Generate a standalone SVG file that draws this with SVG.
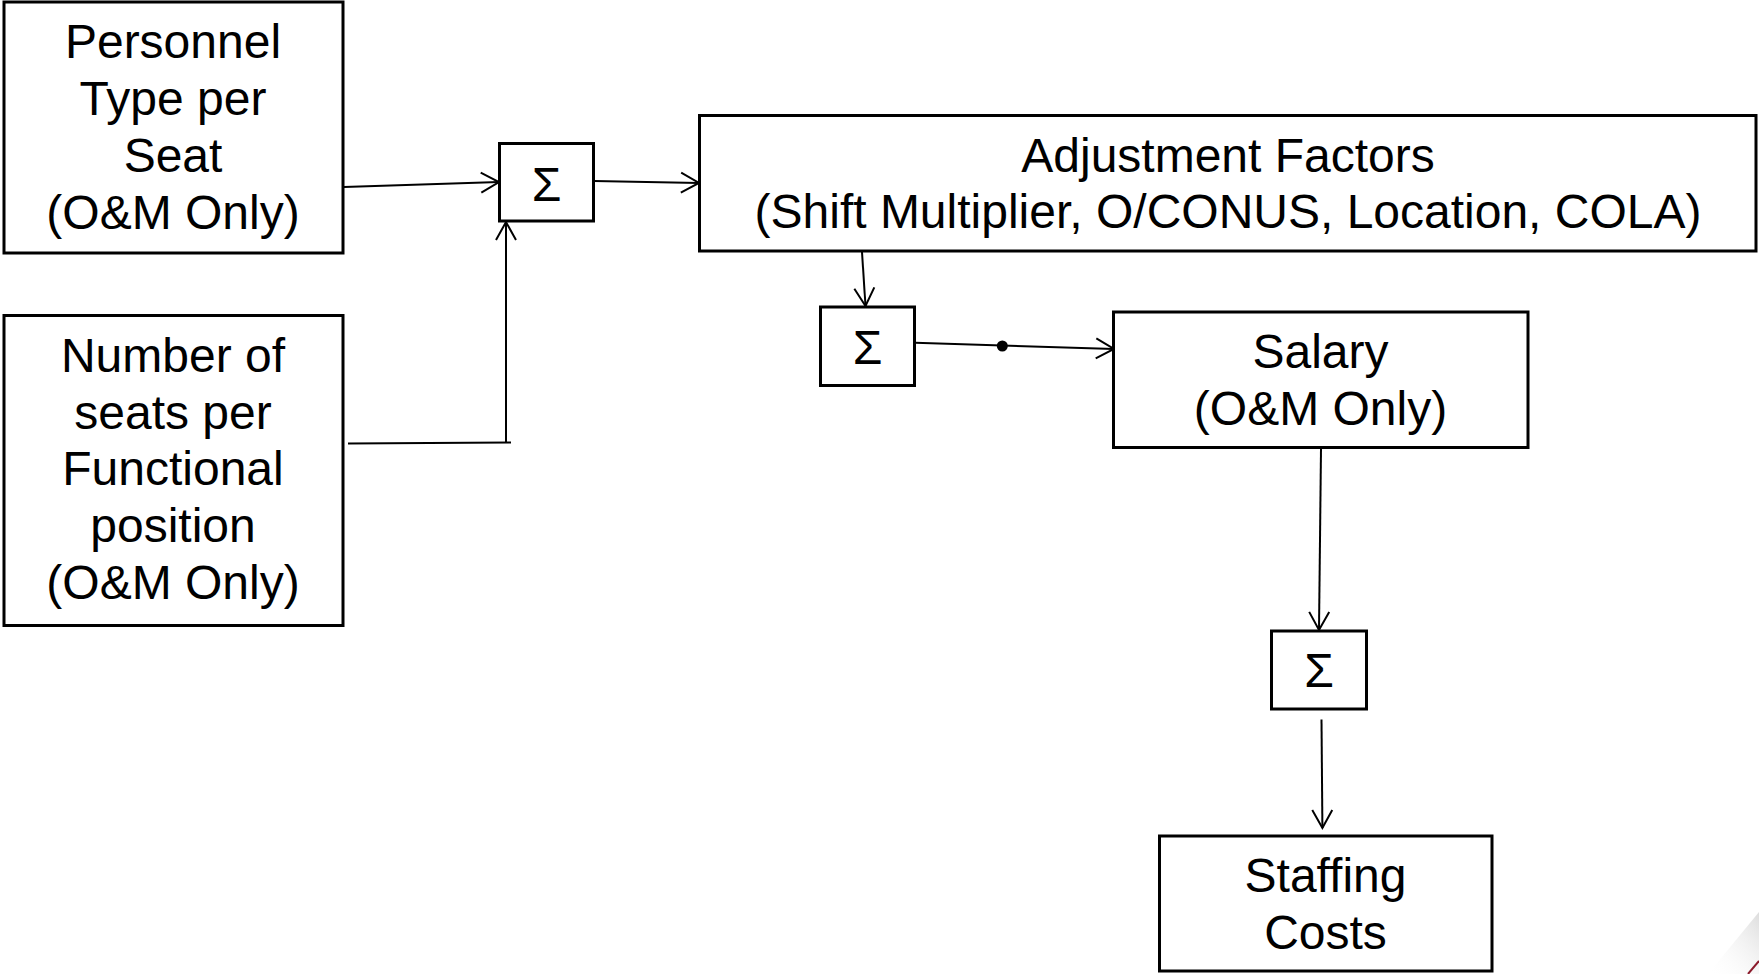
<svg xmlns="http://www.w3.org/2000/svg" width="1759" height="974" viewBox="0 0 1759 974">
  <style>
    .box { fill: #ffffff; stroke: #000000; stroke-width: 3; }
    .lbl { font-family: "Liberation Sans", Arial, sans-serif; font-size: 48px; fill: #000000; text-anchor: middle; }
    .conn { fill: none; stroke: #000000; stroke-width: 2; }
  </style>
  <defs>
    <marker id="arrow" markerUnits="userSpaceOnUse" markerWidth="22" markerHeight="24" refX="18" refY="11" orient="auto" overflow="visible">
      <path d="M0,1 L18,11 L0,21" fill="none" stroke="#000000" stroke-width="2"/>
    </marker>
    <linearGradient id="swoosh" x1="0" y1="1" x2="1" y2="0">
      <stop offset="0" stop-color="#ffffff" stop-opacity="0"/>
      <stop offset="1" stop-color="#d9d9d9" stop-opacity="0.9"/>
    </linearGradient>
  </defs>
  <rect width="1759" height="974" fill="#ffffff"/>

  <!-- decorative corner -->
  <g id="corner">
    <path d="M1708,974 L1759,912 L1759,974 Z" fill="url(#swoosh)"/>
    <path d="M1748,974 L1759,961" stroke="#8b1a2b" stroke-width="2" fill="none"/>
  </g>

  <g id="connectors">
    <line class="conn" x1="344" y1="187" x2="499" y2="182" marker-end="url(#arrow)"/>
    <line class="conn" x1="594" y1="181" x2="699" y2="183" marker-end="url(#arrow)"/>
    <polyline class="conn" points="348,443.5 511,442.5"/>
    <line class="conn" x1="506" y1="443" x2="506" y2="222" marker-end="url(#arrow)"/>
    <line class="conn" x1="862" y1="252" x2="865.5" y2="306" marker-end="url(#arrow)"/>
    <line class="conn" x1="915" y1="342.7" x2="1114" y2="349" marker-end="url(#arrow)"/>
    <circle cx="1002.3" cy="346" r="5.5" fill="#000000"/>
    <line class="conn" x1="1321" y1="449" x2="1319" y2="630" marker-end="url(#arrow)"/>
    <line class="conn" x1="1321.5" y1="719.5" x2="1322.4" y2="828" marker-end="url(#arrow)"/>
  </g>

  <g id="personnel-type">
    <rect class="box" x="4" y="2" width="339" height="251"/>
    <text class="lbl" x="173" y="58">Personnel</text>
    <text class="lbl" x="173" y="115">Type per</text>
    <text class="lbl" x="173" y="172">Seat</text>
    <text class="lbl" x="173" y="229">(O&amp;M Only)</text>
  </g>

  <g id="number-of-seats">
    <rect class="box" x="4" y="315.5" width="339" height="310"/>
    <text class="lbl" x="173" y="372">Number of</text>
    <text class="lbl" x="173" y="428.5">seats per</text>
    <text class="lbl" x="173" y="485">Functional</text>
    <text class="lbl" x="173" y="542">position</text>
    <text class="lbl" x="173" y="599">(O&amp;M Only)</text>
  </g>

  <g id="sum1">
    <rect class="box" x="499.5" y="143.5" width="94" height="77.5"/>
    <text class="lbl" x="546.5" y="200.5">Σ</text>
  </g>

  <g id="adjustment-factors">
    <rect class="box" x="699.5" y="115.5" width="1056.5" height="135.5"/>
    <text class="lbl" x="1228" y="172">Adjustment Factors</text>
    <text class="lbl" x="1228" y="228">(Shift Multiplier, O/CONUS, Location, COLA)</text>
  </g>

  <g id="sum2">
    <rect class="box" x="820.5" y="307" width="94" height="78.5"/>
    <text class="lbl" x="867.5" y="363.5">Σ</text>
  </g>

  <g id="salary">
    <rect class="box" x="1113.5" y="312" width="414.5" height="135.5"/>
    <text class="lbl" x="1320.5" y="368">Salary</text>
    <text class="lbl" x="1320.5" y="425">(O&amp;M Only)</text>
  </g>

  <g id="sum3">
    <rect class="box" x="1271.5" y="631" width="95" height="78"/>
    <text class="lbl" x="1319" y="687">Σ</text>
  </g>

  <g id="staffing-costs">
    <rect class="box" x="1159.5" y="836" width="332.5" height="135"/>
    <text class="lbl" x="1325.5" y="892">Staffing</text>
    <text class="lbl" x="1325.5" y="948.5">Costs</text>
  </g>
</svg>
